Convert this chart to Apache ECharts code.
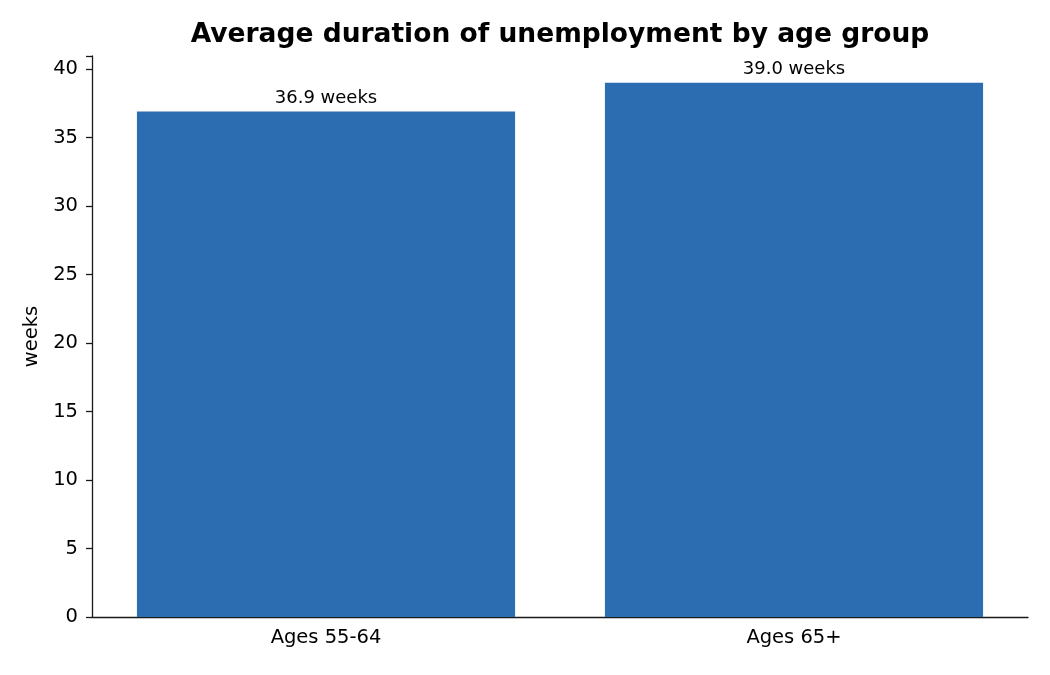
<!DOCTYPE html>
<html>
<head>
<meta charset="utf-8">
<script src="https://cdn.jsdelivr.net/npm/echarts@6/dist/echarts.min.js"></script>
<style>
  html, body { margin: 0; padding: 0; background: #fff; }
  #chart { width: 1050px; height: 675px; }
</style>
</head>
<body>
<div id="chart"></div>
<script>
const categories = ['Ages 55-64', 'Ages 65+'];
const weeks = [36.9, 39.0];
const yTicks = [0, 5, 10, 15, 20, 25, 30, 35, 40];

const font = 'DejaVu Sans';
const chart = echarts.init(document.getElementById('chart'));

chart.setOption({
    backgroundColor: '#fff',
    animation: false,
    title: {
        text: 'Average duration of unemployment by age group',
        left: 555,
        textAlign: 'center',
        top: 17,
        textStyle: {fontFamily: font, fontSize: 26.5, fontWeight: 'bold', color: '#000'}
    },
    grid: {left: 92, right: 22, top: 56, bottom: 58},
    xAxis: {
        type: 'category',
        data: categories,
        axisLine: {lineStyle: {color: '#1a1a1a', width: 1.3}},
        axisTick: {alignWithLabel: true, length: 6, lineStyle: {color: '#1a1a1a', width: 1.3}},
        axisLabel: {fontFamily: font, fontSize: 19.5, color: '#000', margin: 11}
    },
    yAxis: {
        type: 'value',
        min: 0,
        max: 40.95,
        interval: 5,
        name: 'weeks',
        nameLocation: 'middle',
        nameGap: 48,
        nameTextStyle: {fontFamily: font, fontSize: 19.5, color: '#000'},
        splitLine: {show: false},
        axisLine: {show: true, lineStyle: {color: '#1a1a1a', width: 1.3}},
        axisTick: {show: true, length: 6, lineStyle: {color: '#1a1a1a', width: 1.3}},
        axisLabel: {
            fontFamily: font, fontSize: 19.5, color: '#000', margin: 14,
            formatter: v => yTicks.includes(v) ? String(v) : ''
        }
    },
    series: [{
        type: 'bar',
        data: weeks,
        barWidth: '80.8%',
        itemStyle: {color: '#2c6cb0'},
        label: {
            show: true,
            position: 'top',
            distance: 4,
            fontFamily: font,
            fontSize: 18,
            color: '#000',
            formatter: p => p.value.toFixed(1) + ' weeks'
        }
    }]
});
</script>
</body>
</html>
